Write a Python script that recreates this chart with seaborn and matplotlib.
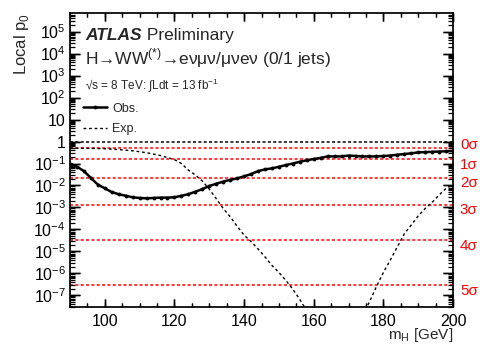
import numpy as np
import pandas as pd
import matplotlib
matplotlib.use("Agg")
import matplotlib.pyplot as plt
import matplotlib.ticker as mticker
import matplotlib.transforms as mtransforms
import seaborn as sns

# ---------------- data ----------------
obs_mass = [90, 92, 94, 96, 98, 100, 102, 104, 106, 108, 110, 112, 114, 116, 118, 120,
            122, 124, 126, 128, 130, 132, 134, 136, 138, 140, 142, 144, 146, 148, 150,
            152, 154, 156, 158, 160, 162, 164, 166, 168, 170, 172, 174, 176, 178, 180,
            182, 184, 186, 188, 190, 192, 194, 196, 198, 200]
obs_p0 = [0.10, 0.072, 0.045, 0.022, 0.011, 0.0074, 0.0050, 0.0040, 0.0034, 0.0029,
          0.0027, 0.0026, 0.0027, 0.0028, 0.0028, 0.0029, 0.0034, 0.0040, 0.0052, 0.0068,
          0.0095, 0.012, 0.015, 0.018, 0.021, 0.026, 0.033, 0.045, 0.054, 0.060, 0.071,
          0.085, 0.10, 0.12, 0.14, 0.16, 0.18, 0.21, 0.21, 0.21, 0.23, 0.22, 0.21, 0.21,
          0.21, 0.22, 0.23, 0.25, 0.27, 0.29, 0.32, 0.33, 0.34, 0.35, 0.36, 0.37]

exp_mass = [90, 96, 100, 104, 108, 112, 116, 120, 122, 124, 126, 128, 130, 132, 134, 136,
            138, 140, 142, 144, 146, 148, 150, 152, 154, 156, 158, 162, 166, 170, 174,
            176, 178, 180, 182, 184, 186, 188, 190, 192, 194, 196, 198, 200]
exp_p0 = [0.50, 0.49, 0.47, 0.43, 0.38, 0.31, 0.23, 0.15, 0.10, 0.050, 0.030, 0.016,
          0.0068, 0.0025, 9e-4, 3.8e-4, 1.4e-4, 5.5e-5, 2.8e-5, 1.3e-5, 5.6e-6, 2.3e-6,
          1.1e-6, 4.8e-7, 1.9e-7, 6.5e-8, 2e-8, 2e-9, 4e-10, 1e-9, 1.3e-8,
          5.0e-8, 2.5e-7, 1.1e-6, 4.1e-6, 1.6e-5, 6.3e-5, 1.6e-4, 4.1e-4, 9e-4,
          1.7e-3, 3.7e-3, 7.4e-3, 0.011]

sigma_labels = ["0σ", "1σ", "2σ", "3σ", "4σ", "5σ"]
sigma_p0 = [0.5, 0.1587, 0.02275, 1.35e-3, 3.167e-5, 2.867e-7]

ytick_vals = [1e5, 1e4, 1e3, 1e2, 10, 1, 1e-1, 1e-2, 1e-3, 1e-4, 1e-5, 1e-6, 1e-7]
ytick_labels = ["$10^{5}$", "$10^{4}$", "$10^{3}$", "$10^{2}$", "10", "1",
                "$10^{-1}$", "$10^{-2}$", "$10^{-3}$", "$10^{-4}$", "$10^{-5}$",
                "$10^{-6}$", "$10^{-7}$"]
xtick_vals = [100, 120, 140, 160, 180, 200]

XLIM = (90, 200)
YLIM = (3e-8, 7e5)

# ---------------- style ----------------
sns.set_theme(style="ticks")
rc = plt.rcParams
rc["font.family"] = ["Liberation Sans", "DejaVu Sans"]
rc["mathtext.fontset"] = "custom"
rc["mathtext.rm"] = "Liberation Sans"
rc["axes.edgecolor"] = "black"
rc["xtick.labelcolor"] = "black"
rc["ytick.labelcolor"] = "black"
rc["xtick.labelsize"] = 11.5
rc["ytick.labelsize"] = 11.5

RECT = [0.1446, 0.108, 0.7914, 0.854]
fig = plt.figure(figsize=(4.84, 3.44), dpi=100)
ax = fig.add_axes(RECT)

df_obs = pd.DataFrame({"mass": obs_mass, "p0": obs_p0})
df_exp = pd.DataFrame({"mass": exp_mass, "p0": exp_p0})

# reference lines
ax.axhline(1.0, color="black", lw=1.1, ls=(0, (2, 1.5)), zorder=1)
for v in sigma_p0:
    ax.axhline(v, color="#ff0000", lw=1.1, ls=(0, (2, 1.5)), zorder=1)

sns.lineplot(data=df_exp, x="mass", y="p0", ax=ax, color="black", lw=1.0,
             linestyle=(0, (2, 2)), label="Exp.", zorder=3)
sns.lineplot(data=df_obs, x="mass", y="p0", ax=ax, color="black", lw=1.8,
             marker="o", markersize=2.8, markeredgewidth=0, label="Obs.", zorder=4)

ax.set_yscale("log")
ax.set_xlim(*XLIM)
ax.set_ylim(*YLIM)

ax.yaxis.set_major_locator(mticker.FixedLocator(ytick_vals))
ax.yaxis.set_major_formatter(mticker.FixedFormatter(ytick_labels))
ax.xaxis.set_major_locator(mticker.FixedLocator(xtick_vals))
ax.xaxis.set_minor_locator(mticker.MultipleLocator(5))
ax.tick_params(which="both", direction="in", top=True, right=True, color="black")
ax.tick_params(axis="x", which="major", length=5.8, width=1.0, pad=5)
ax.tick_params(axis="x", which="minor", length=2.9, width=0.9)
ax.tick_params(axis="y", which="major", length=7.2, width=1.0, pad=3)
ax.tick_params(axis="y", which="minor", length=3.6, width=0.9)

# inward tick segments on all four sides, placed at the axis tick values
xt = ax.get_xaxis_transform()
yt = ax.get_yaxis_transform()
x_minor = [v for v in mticker.MultipleLocator(5).tick_values(*XLIM) if XLIM[0] < v < XLIM[1]]
y_minor = [v for v in mticker.LogLocator(base=10, subs=np.arange(2, 10), numticks=40)
           .tick_values(*YLIM) if YLIM[0] < v < YLIM[1]]
y_major = [v for v in ytick_vals if YLIM[0] < v < YLIM[1]]
for lo, hi in ((0.0, 0.027), (1.0, 1.0 - 0.027)):
    ax.vlines(xtick_vals, lo, hi, transform=xt, color="black", lw=1.0, zorder=6, clip_on=False)
for lo, hi in ((0.0, 0.0136), (1.0, 1.0 - 0.0136)):
    ax.vlines(x_minor, lo, hi, transform=xt, color="black", lw=0.9, zorder=6, clip_on=False)
for lo, hi in ((0.0, 0.026), (1.0, 1.0 - 0.026)):
    ax.hlines(y_major, lo, hi, transform=yt, color="black", lw=1.0, zorder=6, clip_on=False)
for lo, hi in ((0.0, 0.013), (1.0, 1.0 - 0.013)):
    ax.hlines(y_minor, lo, hi, transform=yt, color="black", lw=0.9, zorder=6, clip_on=False)

ax.set_xlabel("m$_{\\mathrm{H}}$ [GeV]", loc="right", fontsize=11, labelpad=-2)
ax.set_ylabel("Local p$_{0}$", loc="top", fontsize=12, labelpad=2)

# sigma labels on the right
offs = [2, -4, -4, -4, -4, -4]
for lab, v, o in zip(sigma_labels, sigma_p0, offs):
    tr = mtransforms.offset_copy(yt, fig=fig, x=0, y=o, units="points")
    ax.text(1.018, v, lab, transform=tr, color="#ff0000", fontsize=11,
            va="center", ha="left", clip_on=False)

# annotations
t_atlas = ax.text(0.039, 0.925, "ATLAS", transform=ax.transAxes, fontsize=12.5,
                  fontweight="bold", fontstyle="italic", va="center", ha="left")
ax.annotate(" Preliminary", xy=(1, 0), xycoords=t_atlas, fontsize=12.5,
            va="bottom", ha="left")
ax.text(0.039, 0.848, "H→WW$^{(*)}$→eνμν/μνeν (0/1 jets)", transform=ax.transAxes,
        fontsize=12.5, va="center", ha="left")
ax.text(0.039, 0.756, "√s = 8 TeV: ∫Ldt = 13 fb$^{-1}$", transform=ax.transAxes,
        fontsize=8.5, va="center", ha="left")

h, l = ax.get_legend_handles_labels()
order = [l.index("Obs."), l.index("Exp.")]
leg = ax.legend([h[i] for i in order], [l[i] for i in order], loc="upper left",
                bbox_to_anchor=(0.035, 0.695), frameon=False, fontsize=9,
                handlelength=1.9, handletextpad=0.4, labelspacing=0.7,
                numpoints=1, borderaxespad=0, borderpad=0)

fig.savefig("out.png", dpi=100)
